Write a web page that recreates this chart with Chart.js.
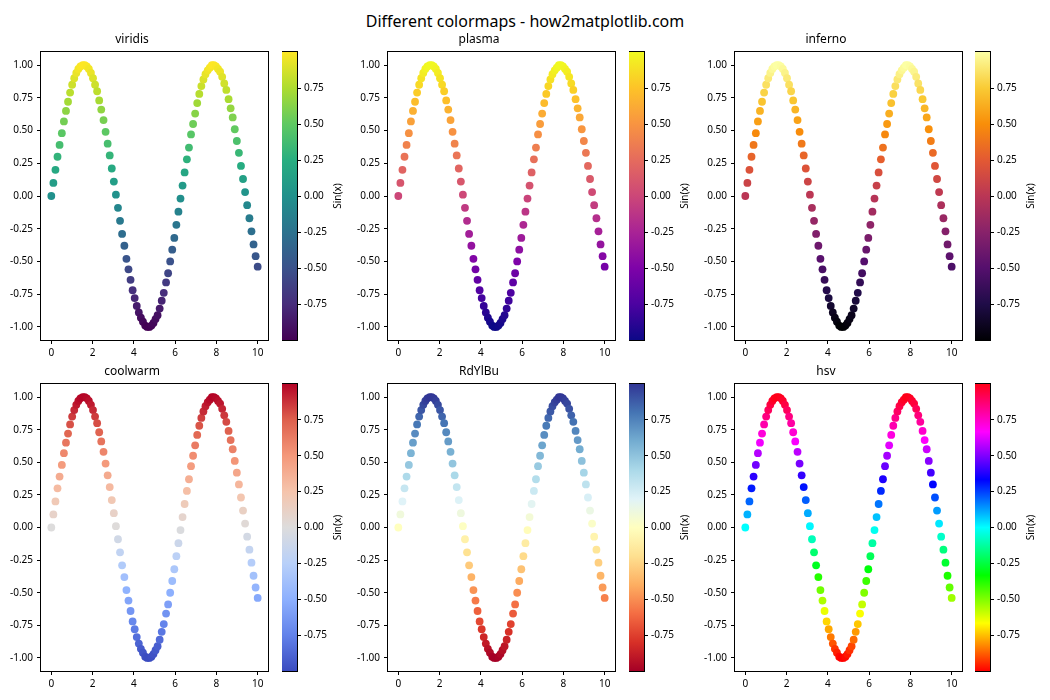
<!DOCTYPE html>
<html>
<head>
<meta charset="utf-8">
<script src="https://cdn.jsdelivr.net/npm/chart.js@4.4.0/dist/chart.umd.min.js"></script>
<style>
  body { margin: 0; background: #fff; }
  #fig { position: relative; width: 1050px; height: 700px; overflow: hidden; font-family: "Noto Sans", sans-serif; }
  #fig canvas { position: absolute; }
  #title { position: absolute; left: 0; top: 8px; width: 1050px; text-align: center; font-size: 16px; line-height: 26px; color: #000; }
</style>
</head>
<body>
<div id="fig"><div id="title">Different colormaps - how2matplotlib.com</div></div>
<script>
// x = linspace(0, 10, 100), y = sin(x)
const xValues = [
  0.00, 0.10, 0.20, 0.30, 0.40, 0.51, 0.61, 0.71, 0.81, 0.91,
  1.01, 1.11, 1.21, 1.31, 1.41, 1.52, 1.62, 1.72, 1.82, 1.92,
  2.02, 2.12, 2.22, 2.32, 2.42, 2.53, 2.63, 2.73, 2.83, 2.93,
  3.03, 3.13, 3.23, 3.33, 3.43, 3.54, 3.64, 3.74, 3.84, 3.94,
  4.04, 4.14, 4.24, 4.34, 4.44, 4.55, 4.65, 4.75, 4.85, 4.95,
  5.05, 5.15, 5.25, 5.35, 5.45, 5.56, 5.66, 5.76, 5.86, 5.96,
  6.06, 6.16, 6.26, 6.36, 6.46, 6.57, 6.67, 6.77, 6.87, 6.97,
  7.07, 7.17, 7.27, 7.37, 7.47, 7.58, 7.68, 7.78, 7.88, 7.98,
  8.08, 8.18, 8.28, 8.38, 8.48, 8.59, 8.69, 8.79, 8.89, 8.99,
  9.09, 9.19, 9.29, 9.39, 9.49, 9.60, 9.70, 9.80, 9.90, 10.00
];
const yValues = [
  0.00, 0.10, 0.20, 0.30, 0.39, 0.48, 0.57, 0.65, 0.72, 0.79,
  0.85, 0.90, 0.94, 0.97, 0.99, 1.00, 1.00, 0.99, 0.97, 0.94,
  0.90, 0.85, 0.80, 0.73, 0.66, 0.58, 0.49, 0.40, 0.31, 0.21,
  0.11, 0.01, -0.09, -0.19, -0.29, -0.38, -0.48, -0.56, -0.64, -0.72,
  -0.78, -0.84, -0.89, -0.93, -0.96, -0.99, -1.00, -1.00, -0.99, -0.97,
  -0.94, -0.91, -0.86, -0.80, -0.74, -0.66, -0.59, -0.50, -0.41, -0.32,
  -0.22, -0.12, -0.02, 0.08, 0.18, 0.28, 0.37, 0.47, 0.55, 0.63,
  0.71, 0.78, 0.84, 0.89, 0.93, 0.96, 0.98, 1.00, 1.00, 0.99,
  0.97, 0.95, 0.91, 0.86, 0.81, 0.74, 0.67, 0.60, 0.51, 0.42,
  0.33, 0.23, 0.13, 0.03, -0.07, -0.17, -0.27, -0.37, -0.46, -0.54
];

const panelTitles = ['viridis', 'plasma', 'inferno', 'coolwarm', 'RdYlBu', 'hsv'];
const xTicks = [0, 2, 4, 6, 8, 10];
const yTicks = [-1, -0.75, -0.5, -0.25, 0, 0.25, 0.5, 0.75, 1];
const cbTicks = [-0.75, -0.5, -0.25, 0, 0.25, 0.5, 0.75];
const cbLabel = 'Sin(x)';

// colormap stops, evenly spaced from low to high
const cmaps = {
  viridis: ['#440154', '#472d7b', '#3b528b', '#2c728e', '#21918c', '#28ae80', '#5ec962', '#addc30', '#fde725'],
  plasma: ['#0d0887', '#4c02a1', '#7e03a8', '#a92395', '#cc4778', '#e56b5d', '#f89441', '#fdc328', '#f0f921'],
  inferno: ['#000004', '#1f0c48', '#550f6d', '#88226a', '#ba3655', '#e35933', '#f98e09', '#f9cb35', '#fcffa4'],
  coolwarm: ['#3b4cc0', '#6282ea', '#8db0fe', '#b8d0f9', '#dddcdc', '#f5c4ac', '#f4987a', '#de604d', '#b40426'],
  RdYlBu: ['#a50026', '#d73027', '#f46d43', '#fdae61', '#fee090', '#ffffbf', '#e0f3f8', '#abd9e9', '#74add1', '#4575b4', '#313695'],
  hsv: ['#ff0000', '#ffff00', '#00ff00', '#00ffff', '#0000ff', '#ff00ff', '#ff0018']
};

const cbMin = Math.min(...yValues);
const cbMax = Math.max(...yValues);

function hexRgb(h) {
  return [parseInt(h.slice(1, 3), 16), parseInt(h.slice(3, 5), 16), parseInt(h.slice(5, 7), 16)];
}

function cmapColor(stops, t) {
  t = Math.min(1, Math.max(0, t));
  const n = stops.length - 1;
  const i = Math.min(n - 1, Math.floor(t * n));
  const f = t * n - i;
  const a = hexRgb(stops[i]), b = hexRgb(stops[i + 1]);
  const c = a.map((v, k) => Math.round(v + (b[k] - v) * f));
  return 'rgb(' + c.join(',') + ')';
}

// layout of the figure
const colLeft = [41, 388, 735];
const plotW = 227;
const cbLeft = [282, 629, 975];
const cbW = 15;
const rowTop = [52, 384];
const rowH = [288, 287];

Chart.defaults.font.family = '"Noto Sans", sans-serif';
Chart.defaults.color = '#000';

const fig = document.getElementById('fig');

function makeCanvas(left, top, w, h) {
  const c = document.createElement('canvas');
  c.width = w;
  c.height = h;
  c.style.left = left + 'px';
  c.style.top = top + 'px';
  c.style.width = w + 'px';
  c.style.height = h + 'px';
  fig.appendChild(c);
  return c;
}

const framePlugin = {
  id: 'frame',
  afterDraw(chart) {
    const a = chart.chartArea;
    const ctx = chart.ctx;
    ctx.save();
    ctx.strokeStyle = '#000';
    ctx.lineWidth = 1;
    ctx.strokeRect(Math.round(a.left) - 0.5, Math.round(a.top) - 0.5, Math.round(a.right - a.left) + 1, Math.round(a.bottom - a.top) + 1);
    ctx.restore();
  }
};

const cbLabelPlugin = {
  id: 'cblabel',
  afterDraw(chart) {
    const a = chart.chartArea;
    const ctx = chart.ctx;
    ctx.save();
    ctx.translate(a.right + 41, (a.top + a.bottom) / 2);
    ctx.rotate(-Math.PI / 2);
    ctx.font = '10px "Noto Sans", sans-serif';
    ctx.fillStyle = '#000';
    ctx.textAlign = 'center';
    ctx.textBaseline = 'middle';
    ctx.fillText(cbLabel, 0, 0);
    ctx.restore();
  }
};

function tickAxis(extra) {
  return Object.assign({
    grid: { drawOnChartArea: false, color: '#000', tickLength: 4, lineWidth: 1 },
    border: { display: false },
    ticks: { font: { size: 10 }, color: '#000', autoSkip: false, maxRotation: 0, padding: 3 }
  }, extra);
}

const points = xValues.map((x, i) => ({ x: x, y: yValues[i] }));

panelTitles.forEach((name, p) => {
  const col = p % 3, row = Math.floor(p / 3);
  const L = colLeft[col], T = rowTop[row], H = rowH[row];
  const stops = cmaps[name];

  // scatter panel
  const yAxisW = 45, xAxisH = 26, titleH = 24, padR = 14;
  const c1 = makeCanvas(L - yAxisW, T - titleH, plotW + yAxisW + padR, H + titleH + xAxisH);
  new Chart(c1, {
    type: 'scatter',
    data: {
      datasets: [{
        data: points,
        pointRadius: 3.9,
        pointHoverRadius: 3.9,
        pointBorderWidth: 0,
        borderWidth: 0,
        backgroundColor: ctx => cmapColor(stops, ctx.raw ? (ctx.raw.y - cbMin) / (cbMax - cbMin) : 0)
      }]
    },
    options: {
      responsive: false,
      animation: false,
      devicePixelRatio: 1,
      layout: { padding: { left: 0, right: padR, top: 0, bottom: 0 } },
      plugins: {
        legend: { display: false },
        tooltip: { enabled: false },
        title: { display: true, text: name, color: '#000', font: { size: 12, weight: 'normal', lineHeight: 1 }, padding: { top: 6, bottom: 6 } }
      },
      scales: {
        x: tickAxis({
          type: 'linear', min: -0.5, max: 10.5,
          afterBuildTicks: s => { s.ticks = xTicks.map(v => ({ value: v })); },
          afterFit: s => { s.height = xAxisH; },
          ticks: { font: { size: 10 }, color: '#000', autoSkip: false, maxRotation: 0, padding: 3, callback: v => String(v) }
        }),
        y: tickAxis({
          type: 'linear', min: -1.1, max: 1.1,
          afterBuildTicks: s => { s.ticks = yTicks.map(v => ({ value: v })); },
          afterFit: s => { s.width = yAxisW; },
          ticks: { font: { size: 10 }, color: '#000', autoSkip: false, padding: 4, callback: v => v.toFixed(2) }
        })
      }
    },
    plugins: [framePlugin]
  });

  // colorbar
  const cbAxisW = 70, cbPad = 10;
  const c2 = makeCanvas(cbLeft[col], T - cbPad, cbW + cbAxisW, H + 2 * cbPad);
  new Chart(c2, {
    type: 'bar',
    data: {
      labels: [''],
      datasets: [{
        data: [[cbMin, cbMax]],
        borderWidth: 0,
        borderSkipped: false,
        barPercentage: 1,
        categoryPercentage: 1,
        backgroundColor: ctx => {
          const chart = ctx.chart;
          if (!chart.chartArea) return 'rgba(0,0,0,0)';
          const ys = chart.scales.y;
          const g = chart.ctx.createLinearGradient(0, ys.getPixelForValue(cbMin), 0, ys.getPixelForValue(cbMax));
          stops.forEach((s, i) => g.addColorStop(i / (stops.length - 1), s));
          return g;
        }
      }]
    },
    options: {
      responsive: false,
      animation: false,
      devicePixelRatio: 1,
      layout: { padding: { left: 0, right: 0, top: cbPad, bottom: cbPad } },
      plugins: { legend: { display: false }, tooltip: { enabled: false } },
      scales: {
        x: { display: false },
        y: tickAxis({
          position: 'right', min: cbMin, max: cbMax,
          afterBuildTicks: s => { s.ticks = cbTicks.map(v => ({ value: v })); },
          afterFit: s => { s.width = cbAxisW; },
          ticks: { font: { size: 10 }, color: '#000', autoSkip: false, padding: 3, callback: v => v.toFixed(2) }
        })
      }
    },
    plugins: [framePlugin, cbLabelPlugin]
  });
});
</script>
</body>
</html>
